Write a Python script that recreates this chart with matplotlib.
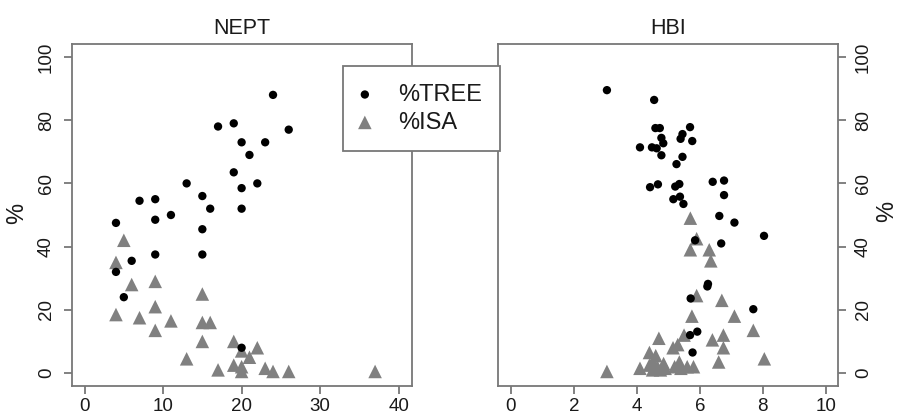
import matplotlib
matplotlib.use("Agg")
import matplotlib.pyplot as plt

plt.rcParams['font.family'] = ['Liberation Sans', 'DejaVu Sans']

# NEPT panel
nept_tree_x = [24, 26, 17, 19, 20, 23, 21, 19, 20, 22, 20, 13, 15, 16, 9, 7, 9, 11, 4, 15,
               9, 15, 6, 4, 5, 20]
nept_tree_y = [88, 77, 78, 79, 73, 73, 69, 63.5, 58.5, 60, 52, 60, 56, 52, 55, 54.5, 48.5, 50, 47.5, 45.5,
               37.5, 37.5, 35.5, 32, 24, 8]
nept_isa_x = [5, 4, 6, 9, 15, 9, 4, 7, 11, 15, 16, 9, 15, 19, 20, 21, 22, 13, 17, 19,
              20, 20, 23, 24, 26, 37]
nept_isa_y = [42, 35, 28, 29, 25, 21, 18.5, 17.5, 16.5, 16, 16, 13.5, 10, 10, 7, 5, 8, 4.5, 1, 2.5,
              2, 0.5, 1.5, 0.5, 0.5, 0.5]

# HBI panel
hbi_tree_x = [3.05, 4.55, 4.59, 4.73, 5.69, 5.45, 5.39, 4.78, 5.76, 4.84, 4.10, 4.48, 4.63, 4.78, 5.45,
              5.26, 6.41, 6.77, 4.67, 4.42, 5.35, 5.22, 5.37, 5.16, 5.48, 6.77, 6.62, 7.10, 8.04, 5.85,
              6.68, 6.26, 6.24, 5.71, 7.70, 5.92, 5.69, 5.77]
hbi_tree_y = [89.5, 86.4, 77.5, 77.5, 77.8, 75.6, 74.1, 74.4, 73.4, 72.7, 71.4, 71.4, 71.1, 68.9, 68.4,
              66.1, 60.5, 60.9, 59.7, 58.8, 59.8, 59.0, 55.8, 55.0, 53.5, 56.3, 49.7, 47.6, 43.4, 42.0,
              41.0, 28.2, 27.4, 23.6, 20.2, 13.1, 12.0, 6.5]
hbi_isa_x = [5.7, 5.9, 5.7, 6.3, 6.35, 5.9, 6.7, 5.75, 7.1, 7.7, 6.75, 5.5, 4.7, 6.4, 5.3,
             5.15, 6.75, 4.4, 8.05, 6.6, 4.6, 4.5, 4.85, 5.35, 3.05, 4.1, 4.5, 4.75, 5.2, 5.6,
             5.8, 4.4, 4.65, 4.9, 5.4]
hbi_isa_y = [49, 42.5, 39, 39, 35.5, 24.5, 23, 18, 18, 13.5, 12, 12, 11, 10.5, 9,
             8, 8, 6.5, 4.5, 3.5, 5.5, 3.5, 3, 3.5, 0.5, 1.5, 1, 1, 2, 2,
             2, 2.5, 2, 1.5, 1.5]

W, H = 898, 416
fig = plt.figure(figsize=(W / 100, H / 100), dpi=100)
ax1 = fig.add_axes([72 / W, 1 - 386 / H, 340 / W, 342 / H])
ax2 = fig.add_axes([498 / W, 1 - 386 / H, 340 / W, 342 / H])

box = '#777777'
tri = '#808080'
txt = '#1a1a1a'

for ax, tx, ty, ix, iy, title in [(ax1, nept_tree_x, nept_tree_y, nept_isa_x, nept_isa_y, 'NEPT'),
                                  (ax2, hbi_tree_x, hbi_tree_y, hbi_isa_x, hbi_isa_y, 'HBI')]:
    ax.scatter(ix, iy, marker='^', s=95, color=tri, edgecolors='none', label='%ISA', zorder=2)
    ax.scatter(tx, ty, marker='o', s=36, color='black', edgecolors='none', label='%TREE', zorder=3)
    ax.set_ylim(-4.1, 104.1)
    ax.set_yticks([0, 20, 40, 60, 80, 100])
    ax.set_title(title, fontsize=15.5, pad=7, color=txt)
    for sp in ax.spines.values():
        sp.set_color(box)
        sp.set_linewidth(1.3)
    ax.tick_params(colors=box, labelcolor=txt, labelsize=13.5, length=5.8, width=1.3)
    ax.tick_params(axis='x', pad=3)
    ax.tick_params(axis='y', pad=6.5, labelrotation=90)

ax1.set_xlim(-1.6, 41.7)
ax1.set_xticks([0, 10, 20, 30, 40])
ax1.set_ylabel('%', fontsize=17, color=txt)
ax1.yaxis.set_label_coords(-0.13, 0.505)

ax2.set_xlim(-0.41, 10.39)
ax2.set_xticks([0, 2, 4, 6, 8, 10])
ax2.yaxis.tick_right()
ax2.yaxis.set_label_position('right')
ax2.set_ylabel('%', fontsize=17, color=txt, rotation=90)
ax2.yaxis.set_label_coords(1.113, 0.51)

for ax in (ax1, ax2):
    for lab in ax.yaxis.get_majorticklabels():
        lab.set_va('center')

h, l = ax1.get_legend_handles_labels()
leg = fig.legend([h[1], h[0]], [l[1], l[0]], loc='upper left',
                 bbox_to_anchor=(343 / W, 1 - 66 / H), fontsize=17, fancybox=False,
                 edgecolor=box, framealpha=1, borderpad=0.75, handlelength=0.35,
                 handletextpad=1.25, labelspacing=0.25, borderaxespad=0)
leg.get_frame().set_linewidth(1.3)
for t in leg.get_texts():
    t.set_color(txt)

fig.savefig('out.png', dpi=100)
